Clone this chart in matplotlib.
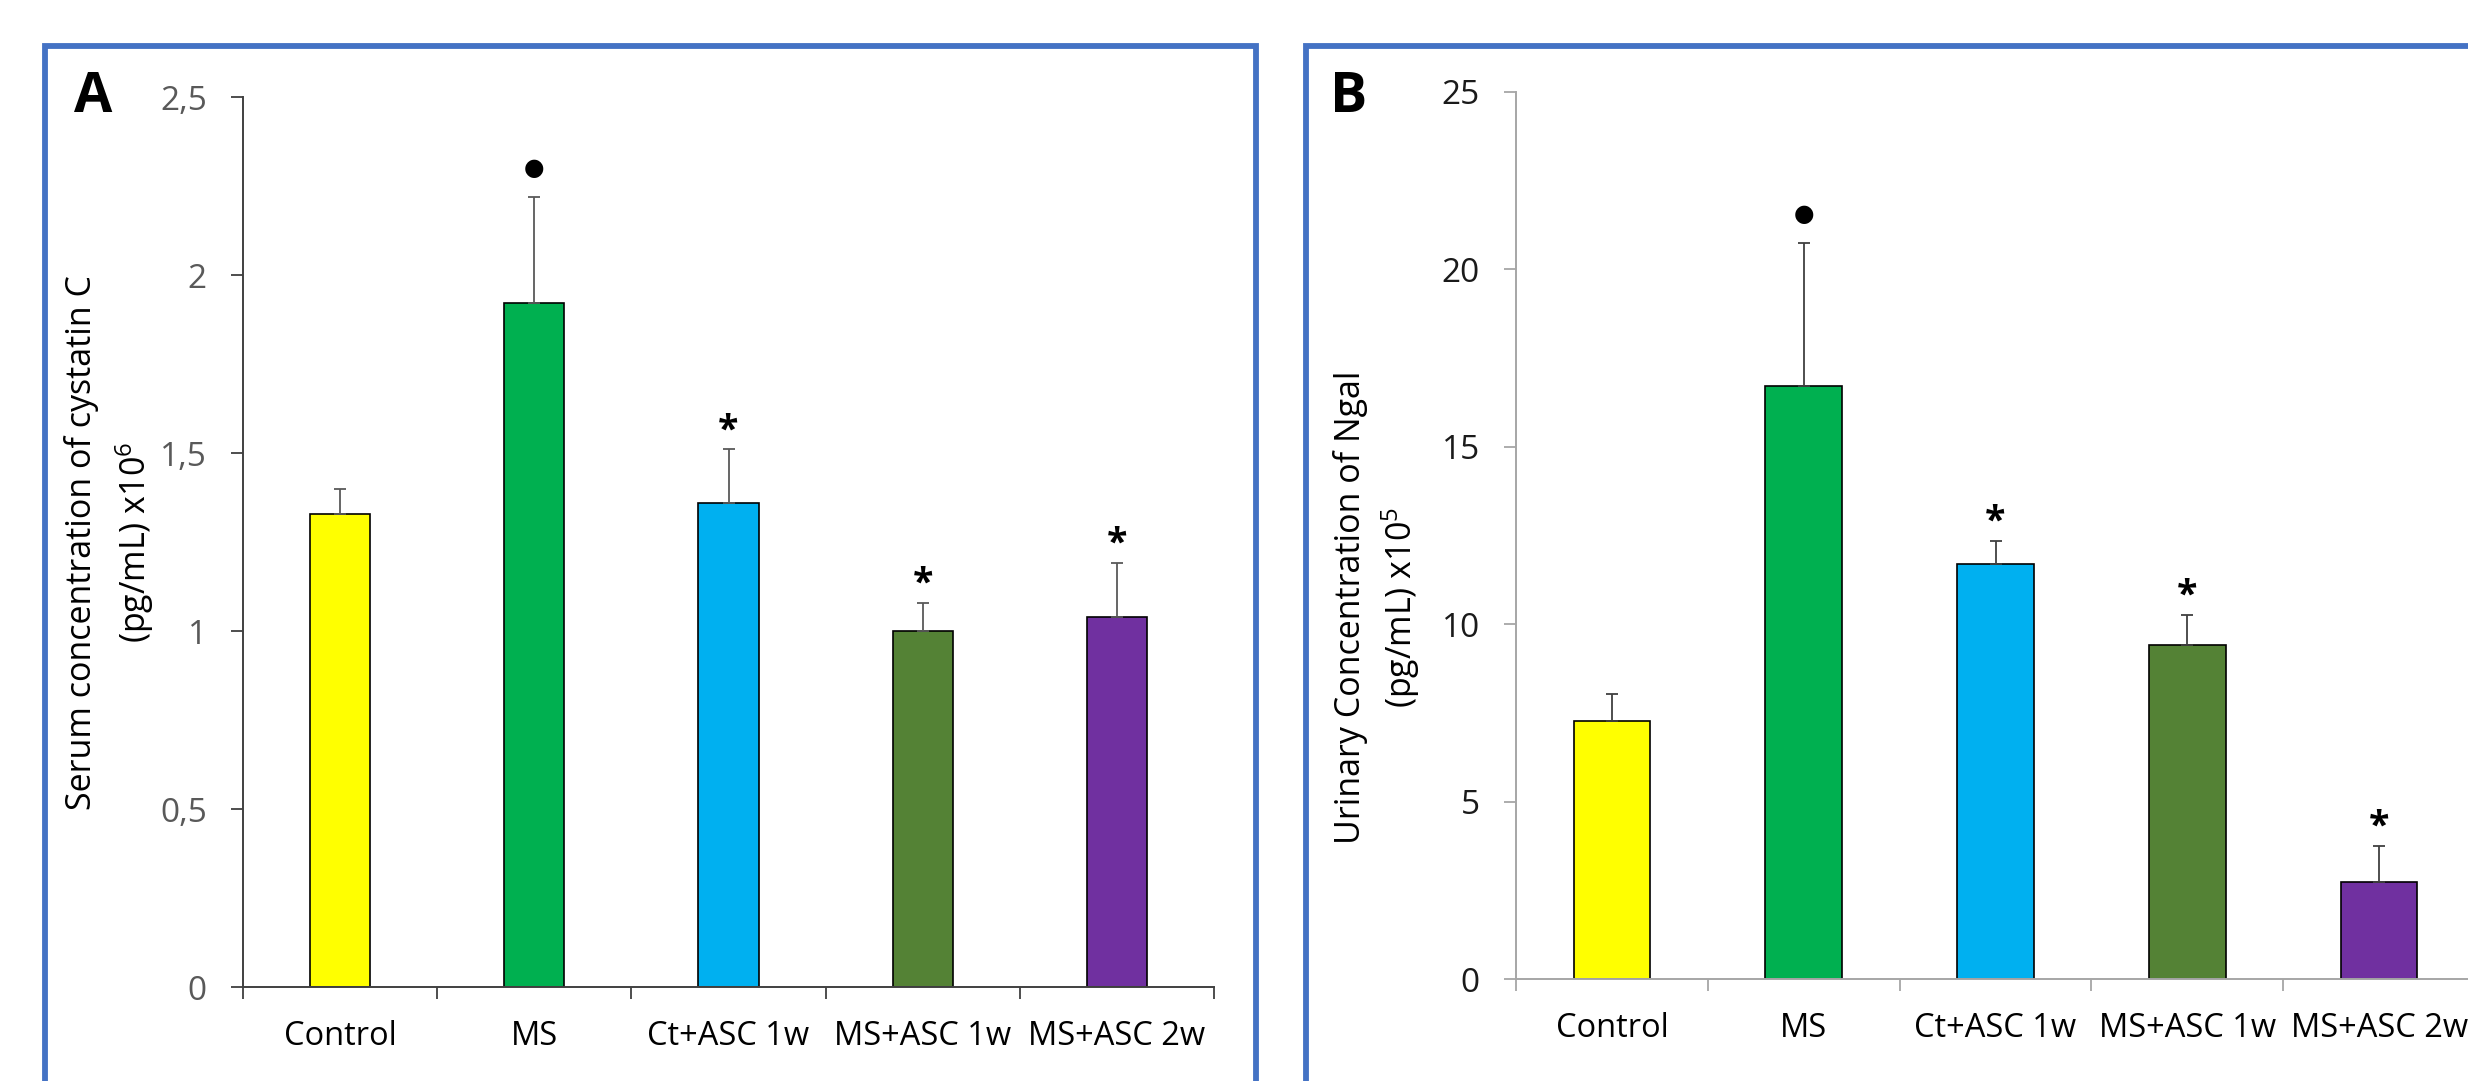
import matplotlib
matplotlib.use('Agg')
import matplotlib.pyplot as plt
from matplotlib.patches import Rectangle

# ---------------- data ----------------
categories = ['Control', 'MS', 'Ct+ASC 1w', 'MS+ASC 1w', 'MS+ASC 2w']
bar_colors = ['#FFFF00', '#00B050', '#00B0F0', '#548235', '#7030A0']

cystatin_mean = [1.33, 1.92, 1.36, 1.00, 1.04]
cystatin_err = [0.07, 0.30, 0.15, 0.08, 0.15]
cystatin_sig = ['', '●', '*', '*', '*']
cystatin_ticks = [0, 0.5, 1, 1.5, 2, 2.5]
cystatin_ticklabels = ['0', '0,5', '1', '1,5', '2', '2,5']

ngal_mean = [7.26, 16.70, 11.70, 9.42, 2.72]
ngal_err = [0.78, 4.05, 0.65, 0.85, 1.03]
ngal_sig = ['', '●', '*', '*', '*']
ngal_ticks = [0, 5, 10, 15, 20, 25]
ngal_ticklabels = ['0', '5', '10', '15', '20', '25']

plt.rcParams['font.family'] = ['Open Sans', 'DejaVu Sans']
plt.rcParams['mathtext.default'] = 'regular'

W, H = 2468, 1081
fig = plt.figure(figsize=(W / 100, H / 100), dpi=100)


def fx(px):
    return px / W


def fy(py):
    return 1 - py / H


def panel(rect, means, errs, sigs, ticks, ticklabels, ymax, width,
          spine_color, ytick_color, err_color, ylab1, ylab2, ylab_x1, ylab_x2,
          ylab_y, letter, letter_xy, frame):
    ax = fig.add_axes(rect)
    x = list(range(len(categories)))
    ax.bar(x, means, width=width, color=bar_colors, edgecolor='black',
           linewidth=1.2, zorder=2)
    ax.errorbar(x, means, yerr=[[0] * len(errs), errs], fmt='none',
                ecolor=err_color, elinewidth=1.3, capsize=4.5, capthick=1.3,
                zorder=3)
    for xi, m, e, s in zip(x, means, errs, sigs):
        if not s:
            continue
        if s == '*':
            ax.annotate(s, (xi, m + e), xytext=(0, 6), textcoords='offset points',
                        ha='center', va='baseline', fontsize=27,
                        fontweight='bold', color='black')
        else:
            ax.annotate(s, (xi, m + e), xytext=(0, 21), textcoords='offset points',
                        ha='center', va='center', fontsize=17,
                        family=['DejaVu Sans'], color='black')
    ax.set_xlim(-0.5, len(categories) - 0.5)
    ax.set_ylim(0, ymax)
    ax.set_yticks(ticks)
    ax.set_yticklabels(ticklabels)
    ax.set_xticks(x)
    ax.set_xticklabels(categories)
    ax.set_xticks([i - 0.5 for i in range(len(categories) + 1)], minor=True)
    ax.tick_params(axis='x', which='major', length=0, pad=24, labelsize=23.5,
                   labelcolor='black')
    ax.tick_params(axis='x', which='minor', length=8.5, width=1.3,
                   color=spine_color, direction='out')
    ax.tick_params(axis='y', which='major', length=8.5, width=1.3,
                   color=spine_color, pad=17.5, labelsize=24,
                   labelcolor=ytick_color)
    for side in ['top', 'right']:
        ax.spines[side].set_visible(False)
    for side in ['left', 'bottom']:
        ax.spines[side].set_color(spine_color)
        ax.spines[side].set_linewidth(1.4)
    ax.patch.set_alpha(0)
    fig.text(fx(ylab_x1), fy(ylab_y), ylab1, rotation=90, ha='center',
             va='center', fontsize=24.5, color='black')
    fig.text(fx(ylab_x2), fy(ylab_y), ylab2, rotation=90, ha='center',
             va='center', fontsize=24.5, color='black')
    fig.text(fx(letter_xy[0]), fy(letter_xy[1]), letter, ha='center',
             va='center', fontsize=40, fontweight='bold', color='black')
    x0, y0, x1, y1 = frame
    fig.patches.append(Rectangle((fx(x0), fy(y1)), fx(x1) - fx(x0),
                                 fy(y0) - fy(y1), transform=fig.transFigure,
                                 fill=False, edgecolor='#4472C4', linewidth=4.2,
                                 clip_on=False))
    return ax


# Panel A
axA_left, axA_right, axA_top, axA_bottom = 243, 1214, 97, 987
panel([fx(axA_left), fy(axA_bottom), fx(axA_right) - fx(axA_left),
       fy(axA_top) - fy(axA_bottom)],
      cystatin_mean, cystatin_err, cystatin_sig, cystatin_ticks,
      cystatin_ticklabels, 2.5, 0.31, '#404040', '#595959', '#595959',
      'Serum concentration of cystatin C', '(pg/mL) x10$^6$',
      82, 135, 542, 'A', (93.5, 97), (44.5, 46, 1256, 1200))

# Panel B
axB_left, axB_right, axB_top, axB_bottom = 1516, 2475, 92, 979
panel([fx(axB_left), fy(axB_bottom), fx(axB_right) - fx(axB_left),
       fy(axB_top) - fy(axB_bottom)],
      ngal_mean, ngal_err, ngal_sig, ngal_ticks, ngal_ticklabels, 25, 0.40,
      '#A6A6A6', '#1A1A1A', '#404040',
      'Urinary Concentration of Ngal', '(pg/mL) x10$^5$',
      1350, 1401, 607, 'B', (1349, 97), (1306, 46, 2600, 1200))

fig.savefig('out.png', dpi=100)
